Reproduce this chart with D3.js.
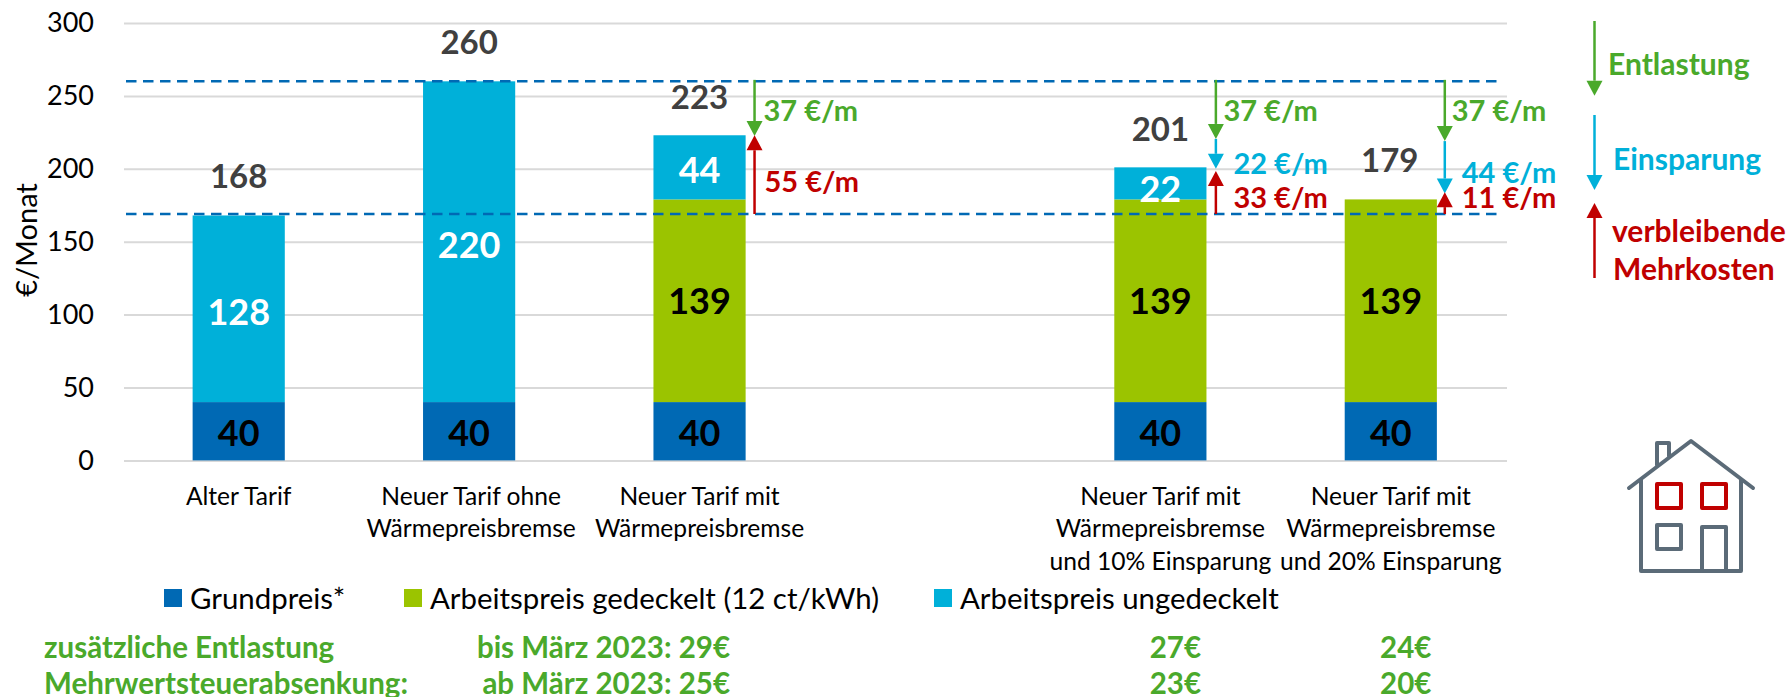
<!DOCTYPE html>
<html lang="de"><head><meta charset="utf-8">
<script src="https://cdn.jsdelivr.net/npm/d3@7/dist/d3.min.js"></script>
<style>
html,body{margin:0;padding:0;background:#fff}
svg{display:block}
text{font-family:Lato,"Open Sans",sans-serif}
</style></head><body><div id="chart"></div>
<script>
const categories = ["Alter Tarif","Neuer Tarif ohne Wärmepreisbremse","Neuer Tarif mit Wärmepreisbremse","gap","Neuer Tarif mit Wärmepreisbremse und 10% Einsparung","Neuer Tarif mit Wärmepreisbremse und 20% Einsparung"];
const categoryLines = [["Alter Tarif"],["Neuer Tarif ohne","Wärmepreisbremse"],["Neuer Tarif mit","Wärmepreisbremse"],[],["Neuer Tarif mit","Wärmepreisbremse","und 10% Einsparung"],["Neuer Tarif mit","Wärmepreisbremse","und 20% Einsparung"]];
const grundpreis = [40,40,40,null,40,40];
const gedeckelt = [0,0,139,null,139,139];
const ungedeckelt = [128,220,44,null,22,0];
const totals = [168,260,223,null,201,179];
const referenceLines = [260,169];
const seriesNames = ["Grundpreis*","Arbeitspreis gedeckelt (12 ct/kWh)","Arbeitspreis ungedeckelt"];
const yTicks = [0,50,100,150,200,250,300];
const arrows = [
 {cat:2,from:261,to:222.5,kind:"g"},{cat:2,from:169,to:223,kind:"r"},
 {cat:4,from:261,to:220.5,kind:"g"},{cat:4,from:220.5,to:200,kind:"b"},{cat:4,from:169,to:198.5,kind:"r"},
 {cat:5,from:261,to:219,kind:"g"},{cat:5,from:219,to:183,kind:"b"},{cat:5,from:169,to:184,kind:"r"}
];
const arrowLabels = [
 {text:"37 €/m",kind:"g",cat:2,dx:64,v:241},{text:"55 €/m",kind:"r",cat:2,dx:65,v:192},
 {text:"37 €/m",kind:"g",cat:4,dx:63,v:240.5},{text:"22 €/m",kind:"b",cat:4,dx:73,v:204},{text:"33 €/m",kind:"r",cat:4,dx:73,v:181},
 {text:"37 €/m",kind:"g",cat:5,dx:61,v:240.5},{text:"44 €/m",kind:"b",cat:5,dx:71,v:198},{text:"11 €/m",kind:"r",cat:5,dx:71,v:181}
];
const reliefRow1 = ["bis März 2023: 29€","27€","24€"];
const reliefRow2 = ["ab März 2023: 25€","23€","20€"];
const reliefTitle = ["zusätzliche Entlastung","Mehrwertsteuerabsenkung:"];
const keyLabels = [{t:"Entlastung",k:"g"},{t:"Einsparung",k:"b"},{t:"verbleibende",k:"r"},{t:"Mehrkosten",k:"r"}];

const W=1789,H=697;
const C={grund:"#0069b4",ged:"#9bc400",unged:"#00b0d9",g:"#4aa92b",b:"#00b0d9",r:"#c00000",dark:"#404040",grid:"#d9d9d9",house:"#5b6b78"};
const svg=d3.select("#chart").append("svg").attr("width",W).attr("height",H);
const x=d3.scaleBand().domain(d3.range(categories.length)).range([123.5,1506]).paddingInner(0.6).paddingOuter(0.3);
const y=d3.scaleLinear().domain([0,300]).range([460.4,23]);
const cx=i=>x(i)+x.bandwidth()/2;

// y axis + grid
const ax=svg.append("g").attr("transform","translate(124,0)").call(d3.axisLeft(y).tickValues(yTicks).tickSize(-(1507-124)).tickPadding(30));
ax.select(".domain").remove();
ax.selectAll(".tick line").attr("stroke",C.grid).attr("stroke-width",2);
ax.selectAll(".tick text").attr("font-size",27).attr("fill","#000").style("font-family","Lato").attr("x",-30);
svg.append("text").attr("transform","translate(25,240) rotate(-90)").attr("text-anchor","middle").attr("dominant-baseline","central").attr("font-size",29).text("€/Monat");

// bars
const stack=d3.stack().keys(["grund","ged","unged"])(categories.map((c,i)=>({i,grund:grundpreis[i]||0,ged:gedeckelt[i]||0,unged:ungedeckelt[i]||0})));
const colors={grund:C.grund,ged:C.ged,unged:C.unged};
const textCol={grund:"#000",ged:"#000",unged:"#fff"};
const segShift={grund:1,ged:-1,unged:2};
stack.forEach(s=>{
  svg.append("g").selectAll("rect").data(s.filter(d=>d[1]>d[0])).join("rect")
   .attr("x",d=>x(d.data.i)).attr("width",x.bandwidth()).attr("y",d=>y(d[1])).attr("height",d=>y(d[0])-y(d[1])).attr("fill",colors[s.key]);
});
// reference lines
svg.append("g").selectAll("line").data(referenceLines).join("line")
 .attr("x1",126).attr("x2",1497).attr("y1",d=>y(d)).attr("y2",d=>y(d))
 .attr("stroke",C.grund).attr("stroke-width",2.5).attr("stroke-dasharray","10.5 6.5");
// segment labels
stack.forEach(s=>{
  svg.append("g").selectAll("text").data(s.filter(d=>d[1]>d[0])).join("text")
   .attr("x",d=>cx(d.data.i)).attr("y",d=>y((d[0]+d[1])/2)+(d[1]-d[0]<25?5:segShift[s.key]))
   .attr("text-anchor","middle").attr("dominant-baseline","central")
   .attr("font-size",36).attr("font-weight",700).attr("fill",textCol[s.key]).text(d=>d[1]-d[0]);
});
// totals
const totalOffset=[40,40,39,0,39,40];
svg.append("g").selectAll("text").data(totals.map((t,i)=>({t,i})).filter(d=>d.t)).join("text")
 .attr("x",d=>cx(d.i)-(d.i==5?1:0)).attr("y",d=>y(d.t)-totalOffset[d.i])
 .attr("text-anchor","middle").attr("dominant-baseline","central")
 .attr("font-size",33).attr("font-weight",700).attr("fill",C.dark).text(d=>d.t);

// arrows
function arrow(g,ax,y1,y2,col){
  const dir=y2>y1?1:-1,len=15,hw=8;
  g.append("line").attr("x1",ax).attr("x2",ax).attr("y1",y1).attr("y2",y2-dir*len).attr("stroke",col).attr("stroke-width",2.5);
  g.append("path").attr("d",d3.line()([[ax,y2],[ax-hw,y2-dir*len],[ax+hw,y2-dir*len]])+"Z").attr("fill",col);
}
const ag=svg.append("g");
arrows.forEach(a=>arrow(ag,cx(a.cat)+55-(a.cat==4?-0.5:a.cat==5?1:0),y(a.from),y(a.to),C[a.kind]));
svg.append("g").selectAll("text").data(arrowLabels).join("text")
 .attr("x",d=>cx(d.cat)+d.dx).attr("y",d=>y(d.v)).attr("dominant-baseline","central")
 .attr("font-size",29).attr("font-weight",700).attr("fill",d=>C[d.kind]).text(d=>d.text);

// key on right
arrow(svg,1594.5,21,95.7,C.g);arrow(svg,1594.5,115,190,C.b);arrow(svg,1594.5,278,203,C.r);
const keyPos=[[1608,63],[1613,158],[1612,230],[1613,268]];
svg.append("g").selectAll("text").data(keyLabels).join("text")
 .attr("x",(d,i)=>keyPos[i][0]).attr("y",(d,i)=>keyPos[i][1]).attr("dominant-baseline","central")
 .attr("font-size",30).attr("font-weight",700).attr("fill",d=>C[d.k]).text(d=>d.t);

// category labels
const lineY=[495,527.5,560];
categoryLines.forEach((ls,i)=>{
  svg.append("g").selectAll("text").data(ls).join("text")
   .attr("x",cx(i)+(i===1?2:0)).attr("y",(d,j)=>lineY[j]).attr("text-anchor","middle").attr("dominant-baseline","central")
   .attr("font-size",24.6).attr("fill","#000").text(d=>d);
});

// legend
const legX=[164,404,934],legC=[C.grund,C.ged,C.unged];
const lg=svg.append("g").selectAll("g").data(seriesNames).join("g");
lg.append("rect").attr("x",(d,i)=>legX[i]).attr("y",589).attr("width",18).attr("height",18).attr("fill",(d,i)=>legC[i]);
lg.append("text").attr("x",(d,i)=>legX[i]+26).attr("y",597).attr("dominant-baseline","central").attr("font-size",29.4).attr("fill","#000").text(d=>d);

// bottom rows
const rowY=[646,682];
const tg=svg.append("g").attr("font-size",29.5).attr("font-weight",700).attr("fill",C.g);
reliefTitle.forEach((t,i)=>tg.append("text").attr("x",44).attr("y",rowY[i]).attr("dominant-baseline","central").text(t));
[reliefRow1,reliefRow2].forEach((row,r)=>{
  tg.append("text").attr("x",730).attr("y",rowY[r]).attr("text-anchor","end").attr("dominant-baseline","central").text(row[0]);
  tg.append("text").attr("x",cx(4)+15).attr("y",rowY[r]).attr("text-anchor","middle").attr("dominant-baseline","central").text(row[1]);
  tg.append("text").attr("x",cx(5)+15).attr("y",rowY[r]).attr("text-anchor","middle").attr("dominant-baseline","central").text(row[2]);
});

// house icon
const h=svg.append("g").attr("fill","none").attr("stroke",C.house).attr("stroke-width",4).attr("stroke-linejoin","round").attr("stroke-linecap","round");
const L=d3.line();
h.append("path").attr("d",L([[1629,488],[1691,441],[1753,488]]));
h.append("path").attr("d",L([[1641,480],[1641,571],[1741,571],[1741,480]]));
h.append("path").attr("d",L([[1657,465],[1657,443],[1669,443],[1669,456]]));
h.append("rect").attr("x",1657).attr("y",525).attr("width",24).attr("height",24);
h.append("path").attr("d",L([[1702,571],[1702,527],[1726,527],[1726,571]]));
[1657,1702].forEach(wx=>h.append("rect").attr("x",wx).attr("y",484).attr("width",24).attr("height",24).attr("stroke",C.r));
</script></body></html>
